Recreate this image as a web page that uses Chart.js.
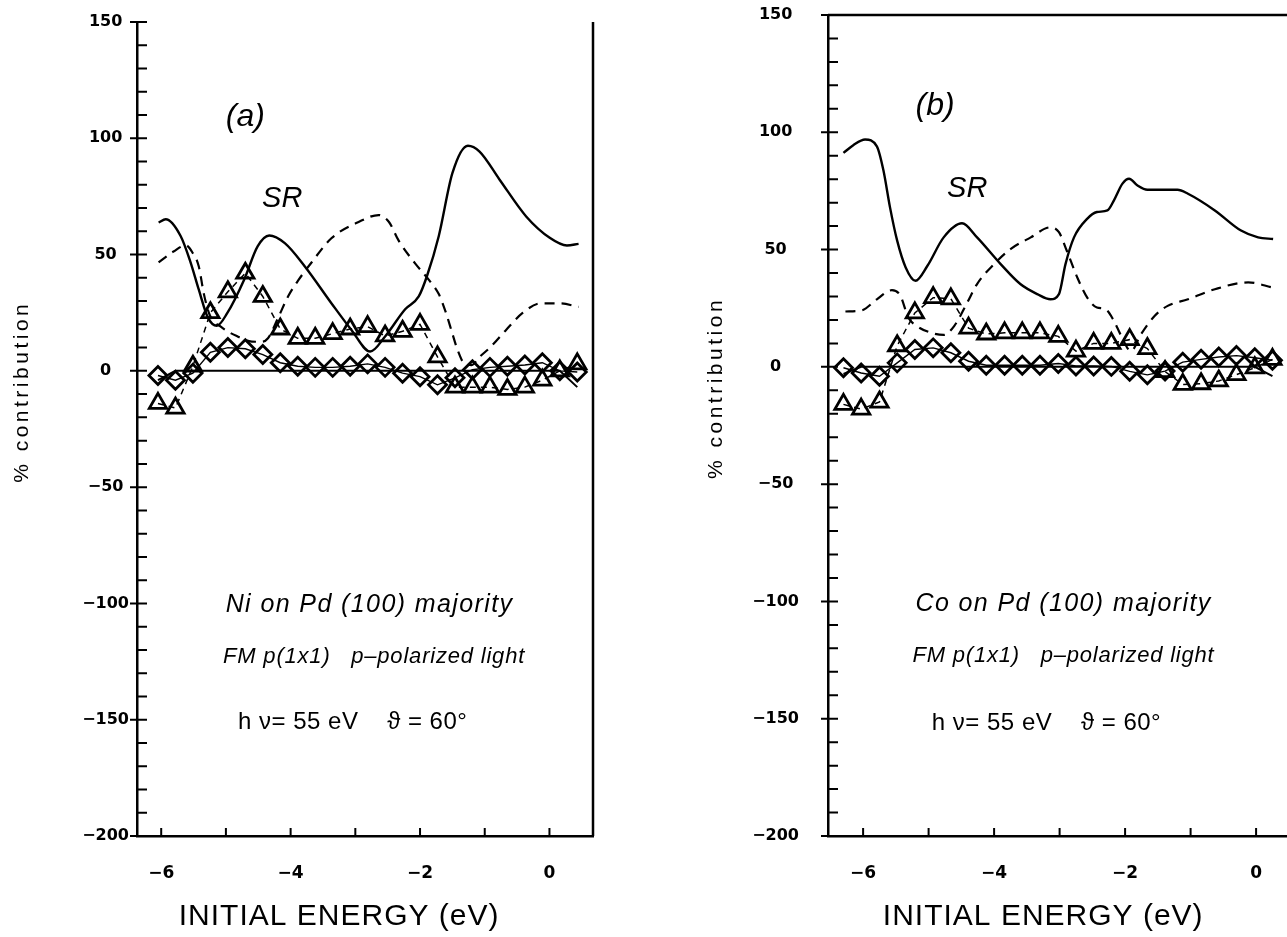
<!DOCTYPE html>
<html>
<head>
<meta charset="utf-8">
<script src="https://cdn.jsdelivr.net/npm/chart.js@4.4.1/dist/chart.umd.min.js"></script>
<style>
  html, body { margin:0; padding:0; background:#fff; overflow:hidden; }
  body { width:1287px; height:937px; position:relative; }
  canvas { position:absolute; top:0; }
  #panelA { left:0; }
  #panelB { left:700px; }
</style>
</head>
<body>
<canvas id="panelA" width="620" height="937"></canvas>
<canvas id="panelB" width="600" height="937"></canvas>
<script>
/* ===== Panel (a): Ni on Pd(100) ===== */
const energyA = [-6.05, -5.78, -5.51, -5.24, -4.97, -4.70, -4.43, -4.16, -3.89, -3.62, -3.35, -3.08, -2.81,
                 -2.54, -2.27, -2.00, -1.73, -1.46, -1.19, -0.92, -0.65, -0.38, -0.11, 0.16, 0.43];
const triA  = [-14, -16, 2, 25, 34, 42, 32, 18, 14, 14, 16, 18, 19, 15, 17, 20, 6, -7, -7, -7, -8, -7, -4, 0, 3];
const diaA  = [-2, -4, -1, 8, 10, 9.5, 7, 3.5, 2, 1.5, 1.5, 2, 3, 1.5, -1, -2.5, -6, -3, 0.5, 1.5, 2, 2.5, 3.5, 0, -0.5];
const baseA = [-4, 0, 0, 0, 0, 0, 0, 0, 0, 0, 0, 0, 0, 0, 0, 0, 0, 0, 0, 0, 0, 0, 0, 0, -7];

const solidAx = [-6.04, -5.93, -5.70, -5.55, -5.42, -5.28, -5.14, -4.98, -4.72, -4.51, -4.33, -4.09, -3.78, -3.37,
                 -3.06, -2.77, -2.54, -2.23, -2.02, -1.89, -1.71, -1.50, -1.26, -1.08, -0.77, -0.36, 0.01, 0.27, 0.45];
const solidAy = [63.8, 65.2, 58, 47, 35, 23, 19.4, 24.8, 39.1, 53.5, 58.2, 54.9, 44.9, 29.1,
                 17.6, 8.3, 14.8, 26.5, 32, 41, 58, 85, 96.8, 94.3, 82.2, 66.4, 57.1, 53.9, 54.6];

const dashAx = [-6.04, -5.81, -5.62, -5.52, -5.42, -5.34, -5.25, -5.08, -4.82, -4.60, -4.45, -4.35, -4.19, -4.04,
                -3.88, -3.68, -3.37, -2.95, -2.64, -2.48, -2.33, -2.07, -1.86, -1.71, -1.60, -1.50, -1.42, -1.31,
                -1.20, -1.08, -0.92, -0.67, -0.41, -0.14, 0.17, 0.45];
const dashAy = [46.6, 51.3, 54, 51, 45, 33, 24, 19, 14.8, 12.6, 12.5, 14, 23, 32,
                39, 46.5, 57, 64, 67, 64, 56, 46, 39, 33, 25, 16, 9, 3,
                2.5, 6, 10, 17.6, 25, 29, 29, 27.5];

/* ===== Panel (b): Co on Pd(100) ===== */
const energyB = [-6.30, -6.03, -5.75, -5.48, -5.21, -4.93, -4.66, -4.39, -4.12, -3.84, -3.57, -3.30, -3.02,
                 -2.75, -2.48, -2.21, -1.93, -1.66, -1.39, -1.12, -0.84, -0.57, -0.30, -0.02, 0.25];
const triB  = [-16, -18, -15, 9, 23, 29.5, 29, 16.5, 14, 14.5, 14.5, 14.5, 13, 6.7, 10, 10, 11.6, 7.8, -2, -7.5, -7.2, -6, -3.3, -0.4, 3.2];
const diaB  = [-0.4, -2.6, -4, 1.7, 7.4, 8.1, 6, 2.4, 0.7, 0.7, 0.7, 0.7, 1.4, 0.4, 0.4, 0.2, -1.9, -3.4, -1.8, 2, 3.2, 4.2, 4.8, 3.9, 2.8];
const baseB = [-3, 0, 0, 0, 0, 0, 0, 0, 0, 0, 0, 0, 0, 0, 0, 0, 0, 0, 0, 0, 0, 0, 0, 0, -4];

const solidBx = [-6.30, -6.15, -5.97, -5.79, -5.69, -5.59, -5.48, -5.35, -5.20, -5.02, -4.77, -4.49, -4.26, -3.90,
                 -3.60, -3.34, -3.14, -3.01, -2.91, -2.78, -2.58, -2.43, -2.27, -2.17, -2.04, -1.94, -1.81, -1.66,
                 -1.20, -1.04, -0.63, -0.23, 0.03, 0.26];
const solidBy = [91.2, 94.5, 96.9, 94, 83.8, 68.1, 53.8, 42.4, 36.7, 43, 55.2, 61.2, 55.2, 43.8,
                 35.3, 31, 28.8, 31, 43.8, 55.2, 63.1, 66, 66.7, 71, 78.1, 80.2, 77.3, 75.5,
                 75.5, 73.8, 66.7, 58.1, 55.2, 54.5];

const dashBx = [-6.27, -6.02, -5.79, -5.56, -5.43, -5.31, -5.18, -4.97, -4.77, -4.61, -4.41, -4.26, -4.00, -3.75,
                -3.44, -3.14, -3.01, -2.89, -2.73, -2.58, -2.43, -2.30, -2.17, -2.07, -1.91, -1.76, -1.55, -1.35,
                -1.04, -0.63, -0.12, 0.26];
const dashBy = [23.6, 24.1, 28.8, 32.7, 30.3, 21, 17.4, 14.6, 13.6, 17.4, 27.4, 35.3, 43.8, 50.2,
                55.2, 59.5, 57.4, 49.5, 38.1, 29.6, 25.3, 24.6, 19.6, 13.8, 6.7, 13.8, 21.7, 26,
                28.8, 33.1, 36, 33.8];

/* ===== textos ===== */
const yTitle = '% contribution';
const xTitle = 'INITIAL ENERGY (eV)';
const notesA = [
  { t: '(a)', x: -4.70, y: 109, font: 'italic 32px "Liberation Sans"', ls: 0 },
  { t: 'SR',  x: -4.13, y: 74,  font: 'italic 29px "Liberation Sans"', ls: 0 },
  { t: 'Ni on Pd (100) majority', x: -2.78, y: -100.6, font: 'italic 25px "Liberation Sans"', ls: 1.4 },
  { t: 'FM p(1x1)   p\u2013polarized light', x: -2.71, y: -123, font: 'italic 22px "Liberation Sans"', ls: 0.8 },
  { t: 'h \u03BD= 55 eV    \u03D1 = 60\u00B0', x: -3.04, y: -151, font: '24px "Liberation Sans"', ls: 0.5 },
];
const notesB = [
  { t: '(b)', x: -4.90, y: 111, font: 'italic 32px "Liberation Sans"', ls: 0 },
  { t: 'SR',  x: -4.41, y: 76,  font: 'italic 29px "Liberation Sans"', ls: 0 },
  { t: 'Co on Pd (100) majority', x: -2.94, y: -101, font: 'italic 25px "Liberation Sans"', ls: 1.4 },
  { t: 'FM p(1x1)   p\u2013polarized light', x: -2.94, y: -123, font: 'italic 22px "Liberation Sans"', ls: 0.8 },
  { t: 'h \u03BD= 55 eV    \u03D1 = 60\u00B0', x: -3.20, y: -152, font: '24px "Liberation Sans"', ls: 0.5 },
];

const pts = (xs, ys) => xs.map((x, i) => ({ x, y: ys[i] }));
const fmt = v => String(v).replace('-', '\u2212');

/* ===== ticks, marco y textos ===== */
const decor = {
  id: 'decor',
  afterDraw(chart, args, o) {
    const { ctx, chartArea: a, scales: { x, y } } = chart;
    ctx.save();
    ctx.strokeStyle = '#000';
    ctx.fillStyle = '#000';
    ctx.lineWidth = 2;
    ctx.beginPath();
    for (let v = -200; v <= 150; v += 10) {
      const py = y.getPixelForValue(v);
      ctx.moveTo(a.left - (v % 50 === 0 ? 7 : 0), py);
      ctx.lineTo(a.left + 10, py);
    }
    for (let v = -6; v <= 0; v++) {
      const px = x.getPixelForValue(v);
      ctx.moveTo(px, a.bottom);
      ctx.lineTo(px, a.bottom - 8);
    }
    ctx.stroke();

    ctx.lineWidth = 2.5;
    ctx.beginPath();
    if (o.frameRight) { ctx.moveTo(a.right, a.top); ctx.lineTo(a.right, a.bottom); }
    if (o.frameTop) { ctx.moveTo(a.left, a.top); ctx.lineTo(a.right, a.top); }
    ctx.stroke();

    // titulos de ejes
    ctx.textAlign = 'center';
    ctx.textBaseline = 'middle';
    ctx.font = '21px "Liberation Sans"';
    ctx.letterSpacing = '3.5px';
    ctx.save();
    ctx.translate(o.yTitleX, y.getPixelForValue(-9));
    ctx.rotate(-Math.PI / 2);
    ctx.fillText(yTitle, 0, 0);
    ctx.restore();

    ctx.font = '30px "Liberation Sans"';
    ctx.letterSpacing = '1px';
    ctx.fillText(xTitle, x.getPixelForValue(-3.25), 917);

    for (const n of o.notes) {
      ctx.font = n.font;
      ctx.letterSpacing = n.ls + 'px';
      ctx.fillText(n.t, x.getPixelForValue(n.x), y.getPixelForValue(n.y));
    }
    ctx.restore();
  }
};

function datasets(energy, tri, dia, base, sx, sy, dx, dy) {
  return [
    { data: pts(sx, sy), showLine: true, pointRadius: 0, borderColor: '#000', borderWidth: 2.4,
      cubicInterpolationMode: 'monotone' },
    { data: pts(dx, dy), showLine: true, pointRadius: 0, borderColor: '#000', borderWidth: 2.2,
      borderDash: [10, 7], cubicInterpolationMode: 'monotone' },
    { data: pts(energy, base), showLine: true, pointRadius: 0, borderColor: '#000', borderWidth: 2 },
    { data: pts(energy, dia), showLine: true, borderColor: '#000', borderWidth: 1.4,
      pointStyle: 'rectRot', pointRadius: 9, pointBorderWidth: 2.8, pointBorderColor: '#000',
      pointBackgroundColor: 'rgba(0,0,0,0)' },
    { data: pts(energy, tri), showLine: true, borderColor: '#000', borderWidth: 1.5, borderDash: [6, 5],
      pointStyle: 'triangle', pointRadius: 10, pointBorderWidth: 2.8, pointBorderColor: '#000',
      pointBackgroundColor: 'rgba(0,0,0,0)' },
  ];
}

function makePanel(id, c) {
  return new Chart(document.getElementById(id), {
    type: 'scatter',
    data: { datasets: c.datasets },
    options: {
      responsive: false,
      animation: false,
      devicePixelRatio: 1,
      layout: { padding: { top: c.top, right: c.right, left: 0, bottom: 0 } },
      plugins: {
        legend: { display: false },
        tooltip: { enabled: false },
        decor: { notes: c.notes, frameRight: c.frameRight, frameTop: c.frameTop, yTitleX: c.yTitleX }
      },
      scales: {
        x: {
          type: 'linear', min: c.xmin, max: c.xmax,
          afterFit: s => { s.height = 101; s.paddingLeft = 0; s.paddingRight = 0; },
          grid: { display: false, drawTicks: false },
          border: { display: true, color: '#000', width: 2.5 },
          ticks: { stepSize: 2, includeBounds: false, padding: 27, color: '#000', maxRotation: 0,
                   font: { family: 'DejaVu Sans', weight: 'bold', size: 17 }, callback: fmt }
        },
        y: {
          type: 'linear', min: -200, max: 150,
          afterFit: s => { s.width = c.yw; s.paddingTop = 0; s.paddingBottom = 0; },
          grid: { display: false, drawTicks: false },
          border: { display: true, color: '#000', width: 2.5 },
          ticks: { stepSize: 50, padding: c.ypad, crossAlign: 'center', color: '#000',
                   font: { family: 'DejaVu Sans', weight: 'bold', size: 16 }, callback: fmt }
        }
      }
    },
    plugins: [decor]
  });
}

makePanel('panelA', {
  datasets: datasets(energyA, triA, diaA, baseA, solidAx, solidAy, dashAx, dashAy),
  notes: notesA, frameRight: true, frameTop: false,
  top: 22, right: 27, yw: 137, ypad: 8, yTitleX: 22,
  xmin: -6.374, xmax: 0.673
});
makePanel('panelB', {
  datasets: datasets(energyB, triB, diaB, baseB, solidBx, solidBy, dashBx, dashBy),
  notes: notesB, frameRight: false, frameTop: true,
  top: 15, right: 0, yw: 128, ypad: 29, yTitleX: 16,
  xmin: -6.536, xmax: 0.475
});
</script>
</body>
</html>
